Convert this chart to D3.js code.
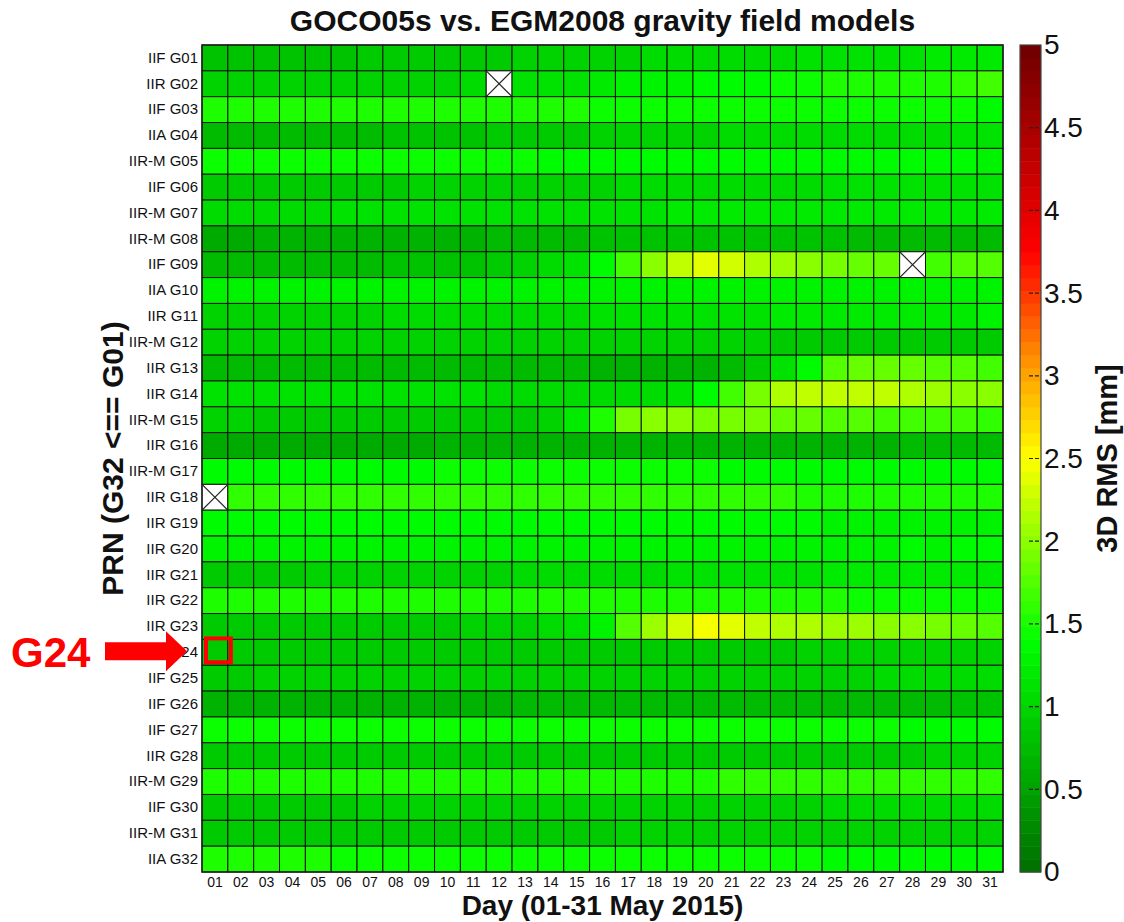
<!DOCTYPE html>
<html>
<head>
<meta charset="utf-8">
<script src="https://cdn.jsdelivr.net/npm/d3@7"></script>
<style>
  html, body { margin: 0; padding: 0; background: #fff; }
  svg { display: block; font-family: Arial, "Liberation Sans", sans-serif; }
</style>
</head>
<body>
<svg id="chart" width="1124" height="922"></svg>
<script>
// Days of May 2015 (columns)
const days = ["01","02","03","04","05","06","07","08","09","10","11","12","13","14","15","16",
              "17","18","19","20","21","22","23","24","25","26","27","28","29","30","31"];

// Satellite block + PRN (rows, top to bottom)
const prnLabels = ["IIF G01","IIR G02","IIF G03","IIA G04","IIR-M G05","IIF G06","IIR-M G07","IIR-M G08",
                   "IIF G09","IIA G10","IIR G11","IIR-M G12","IIR G13","IIR G14","IIR-M G15","IIR G16",
                   "IIR-M G17","IIR G18","IIR G19","IIR G20","IIR G21","IIR G22","IIR G23","IIF G24",
                   "IIF G25","IIF G26","IIF G27","IIR G28","IIR-M G29","IIF G30","IIR-M G31","IIA G32"];

// Daily 3D RMS differences [mm], one row per PRN (null = no orbit that day)
const rms = [
  [0.85,0.85,0.84,0.84,0.85,0.85,0.86,0.86,0.87,0.88,0.88,0.92,0.94,0.95,0.96,0.98,1.00,1.02,1.03,1.04,1.05,1.06,1.08,1.10,1.12,1.13,1.15,1.16,1.18,1.20,1.22],
  [0.95,0.95,0.96,0.96,0.97,0.97,0.98,0.99,1.00,1.00,1.02,null,1.10,1.13,1.16,1.20,1.25,1.28,1.30,1.33,1.36,1.40,1.45,1.48,1.50,1.50,1.52,1.55,1.55,1.60,1.66],
  [1.55,1.55,1.55,1.54,1.54,1.54,1.53,1.53,1.53,1.52,1.52,1.51,1.50,1.50,1.49,1.48,1.47,1.46,1.46,1.45,1.45,1.44,1.44,1.43,1.43,1.42,1.42,1.42,1.41,1.41,1.40],
  [0.75,0.74,0.74,0.75,0.76,0.77,0.78,0.79,0.80,0.82,0.84,0.86,0.88,0.90,0.92,0.94,0.96,0.98,1.00,1.01,1.02,1.03,1.04,1.05,1.06,1.07,1.08,1.08,1.09,1.10,1.10],
  [1.47,1.47,1.46,1.46,1.46,1.45,1.45,1.45,1.44,1.44,1.43,1.42,1.41,1.40,1.39,1.38,1.37,1.37,1.36,1.36,1.35,1.35,1.35,1.34,1.34,1.34,1.33,1.33,1.33,1.33,1.32],
  [0.90,0.90,0.90,0.91,0.91,0.92,0.92,0.93,0.94,0.95,0.96,0.97,0.98,0.99,1.00,1.01,1.02,1.03,1.04,1.05,1.06,1.07,1.08,1.09,1.10,1.11,1.12,1.12,1.13,1.14,1.15],
  [1.08,1.08,1.08,1.09,1.09,1.10,1.10,1.11,1.11,1.12,1.12,1.13,1.14,1.15,1.15,1.16,1.17,1.17,1.18,1.18,1.19,1.19,1.20,1.20,1.21,1.21,1.22,1.22,1.23,1.23,1.24],
  [0.62,0.62,0.63,0.63,0.64,0.65,0.65,0.66,0.67,0.68,0.70,0.72,0.74,0.76,0.78,0.79,0.80,0.80,0.81,0.81,0.81,0.80,0.80,0.79,0.79,0.78,0.78,0.77,0.77,0.76,0.76],
  [0.74,0.74,0.75,0.75,0.76,0.77,0.78,0.79,0.80,0.82,0.85,0.90,0.96,1.03,1.12,1.38,1.68,2.00,2.22,2.36,2.28,2.14,2.06,2.01,1.94,1.86,1.80,null,1.68,1.76,1.72],
  [1.30,1.30,1.31,1.31,1.31,1.32,1.32,1.32,1.32,1.32,1.31,1.31,1.30,1.30,1.30,1.30,1.29,1.29,1.29,1.29,1.28,1.28,1.28,1.28,1.28,1.27,1.27,1.27,1.27,1.27,1.26],
  [0.97,0.97,0.98,0.98,0.99,1.00,1.01,1.02,1.03,1.04,1.05,1.06,1.07,1.08,1.09,1.10,1.12,1.13,1.14,1.15,1.16,1.17,1.18,1.19,1.20,1.21,1.22,1.23,1.24,1.24,1.25],
  [0.95,0.95,0.95,0.96,0.96,0.96,0.96,0.97,0.97,0.97,0.97,0.97,0.97,0.97,0.96,0.96,0.96,0.95,0.95,0.95,0.94,0.94,0.93,0.93,0.92,0.92,0.91,0.91,0.90,0.90,0.90],
  [0.76,0.76,0.76,0.75,0.75,0.75,0.75,0.74,0.74,0.74,0.73,0.73,0.72,0.72,0.71,0.70,0.70,0.69,0.69,0.69,0.78,0.92,1.15,1.38,1.72,1.84,1.86,1.82,1.78,1.76,1.70],
  [1.15,1.15,1.14,1.14,1.13,1.13,1.12,1.12,1.11,1.10,1.10,1.09,1.08,1.07,1.06,1.05,1.05,1.06,1.12,1.38,1.66,1.95,2.14,2.22,2.25,2.26,2.22,2.16,2.08,2.02,1.96],
  [0.95,0.94,0.93,0.92,0.91,0.90,0.89,0.88,0.88,0.88,0.88,0.89,0.90,0.95,1.20,1.55,1.92,1.96,1.96,1.95,1.94,1.90,1.86,1.80,1.76,1.72,1.70,1.68,1.67,1.66,1.64],
  [0.62,0.62,0.61,0.61,0.61,0.61,0.62,0.62,0.62,0.63,0.63,0.63,0.64,0.64,0.65,0.65,0.66,0.66,0.66,0.67,0.67,0.68,0.68,0.69,0.69,0.70,0.70,0.71,0.71,0.72,0.72],
  [1.36,1.37,1.37,1.38,1.38,1.39,1.39,1.40,1.40,1.41,1.41,1.41,1.42,1.42,1.42,1.42,1.42,1.41,1.41,1.41,1.40,1.40,1.40,1.39,1.39,1.39,1.38,1.38,1.38,1.37,1.37],
  [null,1.62,1.62,1.62,1.61,1.61,1.61,1.60,1.60,1.60,1.60,1.59,1.59,1.59,1.59,1.58,1.58,1.58,1.58,1.57,1.57,1.57,1.57,1.56,1.56,1.56,1.56,1.55,1.55,1.55,1.55],
  [1.38,1.37,1.37,1.37,1.36,1.36,1.36,1.36,1.35,1.35,1.35,1.35,1.35,1.34,1.34,1.34,1.34,1.34,1.33,1.33,1.33,1.33,1.33,1.33,1.32,1.32,1.32,1.32,1.32,1.32,1.32],
  [1.30,1.30,1.31,1.30,1.30,1.29,1.30,1.30,1.30,1.31,1.30,1.30,1.29,1.30,1.30,1.30,1.31,1.31,1.31,1.30,1.31,1.31,1.32,1.31,1.32,1.32,1.32,1.33,1.32,1.33,1.33],
  [0.92,0.92,0.93,0.93,0.94,0.95,0.96,0.97,0.98,0.99,1.00,1.01,1.03,1.04,1.05,1.07,1.08,1.09,1.10,1.12,1.13,1.14,1.15,1.16,1.18,1.19,1.20,1.21,1.22,1.23,1.24],
  [1.53,1.53,1.53,1.52,1.52,1.52,1.52,1.52,1.51,1.51,1.51,1.51,1.51,1.50,1.50,1.50,1.50,1.50,1.50,1.49,1.49,1.49,1.49,1.49,1.49,1.48,1.48,1.48,1.48,1.48,1.48],
  [0.86,0.86,0.87,0.87,0.88,0.88,0.89,0.90,0.91,0.92,0.94,0.96,0.99,1.03,1.10,1.30,1.72,2.04,2.30,2.44,2.36,2.26,2.18,2.12,2.08,2.04,2.00,1.96,1.90,1.86,1.76],
  [0.88,0.88,0.88,0.89,0.89,0.89,0.89,0.90,0.90,0.90,0.90,0.91,0.91,0.91,0.91,0.92,0.92,0.92,0.92,0.93,0.93,0.93,0.93,0.94,0.94,0.94,0.94,0.94,0.95,0.95,0.95],
  [0.93,0.93,0.94,0.94,0.94,0.95,0.95,0.95,0.96,0.96,0.96,0.97,0.97,0.97,0.98,0.98,0.98,0.99,0.99,0.99,1.00,1.00,1.00,1.01,1.01,1.01,1.02,1.02,1.02,1.03,1.03],
  [0.66,0.66,0.66,0.67,0.67,0.67,0.68,0.68,0.69,0.69,0.70,0.70,0.71,0.71,0.72,0.72,0.73,0.73,0.74,0.74,0.75,0.75,0.76,0.76,0.77,0.77,0.78,0.78,0.78,0.79,0.79],
  [1.45,1.45,1.45,1.45,1.44,1.44,1.44,1.44,1.44,1.43,1.43,1.43,1.43,1.43,1.42,1.42,1.42,1.42,1.42,1.42,1.41,1.41,1.41,1.41,1.41,1.41,1.41,1.40,1.40,1.40,1.40],
  [0.88,0.88,0.88,0.88,0.89,0.89,0.89,0.89,0.89,0.90,0.90,0.90,0.90,0.90,0.91,0.91,0.91,0.91,0.92,0.92,0.92,0.92,0.92,0.93,0.93,0.93,0.93,0.93,0.94,0.94,0.94],
  [1.50,1.50,1.50,1.50,1.50,1.50,1.51,1.51,1.51,1.51,1.51,1.51,1.51,1.52,1.52,1.52,1.52,1.53,1.54,1.56,1.57,1.57,1.58,1.58,1.58,1.58,1.58,1.59,1.62,1.64,1.62],
  [0.92,0.92,0.92,0.93,0.93,0.93,0.94,0.94,0.94,0.95,0.95,0.95,0.96,0.96,0.97,0.97,0.98,0.98,0.99,0.99,1.00,1.00,1.01,1.01,1.02,1.02,1.03,1.03,1.04,1.04,1.05],
  [0.88,0.88,0.88,0.89,0.89,0.89,0.90,0.90,0.90,0.91,0.91,0.91,0.92,0.92,0.93,0.93,0.94,0.94,0.95,0.95,0.96,0.96,0.97,0.97,0.98,0.98,0.99,0.99,1.00,1.00,1.01],
  [1.50,1.50,1.49,1.49,1.49,1.48,1.48,1.48,1.47,1.47,1.46,1.46,1.45,1.45,1.44,1.44,1.43,1.43,1.42,1.42,1.42,1.41,1.41,1.41,1.40,1.40,1.40,1.40,1.40,1.40,1.40]
];

// Colour bar ticks and colormap anchors (green -> yellow -> red -> dark red)
const cbarTicks = [0, 0.5, 1, 1.5, 2, 2.5, 3, 3.5, 4, 4.5, 5];
const cmapStops = [0, 1.4, 2.5, 3.0, 3.75, 5];
const cmapColors = ["#006e00", "#00ff00", "#ffff00", "#ffa500", "#ff0000", "#6e0000"];
const nLevels = 64;

// Highlighted satellite
const highlightPrn = "IIF G24";
const highlightDay = "01";

const svg = d3.select("#chart");
const FONT = "Arial, 'Liberation Sans', sans-serif";

const W = { left: 202, right: 1003, top: 45, bottom: 872 };

const x = d3.scaleBand().domain(days).range([W.left, W.right]).paddingInner(0).paddingOuter(0);
const y = d3.scaleBand().domain(prnLabels).range([W.top, W.bottom]).paddingInner(0).paddingOuter(0);

const cmapLinear = d3.scaleLinear().domain(cmapStops).range(cmapColors).interpolate(d3.interpolateRgb).clamp(true);
const levelWidth = 5 / nLevels;
const levelOf = v => Math.min(nLevels - 1, Math.max(0, Math.floor(v / levelWidth)));
const colorOf = v => cmapLinear((levelOf(v) + 0.5) * levelWidth);

// Flatten rows into cells
const cells = [];
rms.forEach((row, i) => row.forEach((v, j) => cells.push({ prn: prnLabels[i], day: days[j], v })));

svg.append("g").selectAll("rect.cell")
  .data(cells)
  .join("rect")
  .attr("class", "cell")
  .attr("x", d => x(d.day))
  .attr("y", d => y(d.prn))
  .attr("width", x.bandwidth())
  .attr("height", y.bandwidth())
  .attr("fill", d => d.v == null ? "#ffffff" : colorOf(d.v))
  .attr("stroke", "#111")
  .attr("stroke-width", 1);

// Missing days: crossed-out white cells
const missing = cells.filter(d => d.v == null);
const gMiss = svg.append("g").attr("stroke", "#222").attr("stroke-width", 1.2);
missing.forEach(d => {
  const x0 = x(d.day), y0 = y(d.prn), w = x.bandwidth(), h = y.bandwidth();
  gMiss.append("line").attr("x1", x0).attr("y1", y0).attr("x2", x0 + w).attr("y2", y0 + h);
  gMiss.append("line").attr("x1", x0 + w).attr("y1", y0).attr("x2", x0).attr("y2", y0 + h);
});

// Frame
svg.append("rect")
  .attr("x", W.left).attr("y", W.top)
  .attr("width", W.right - W.left).attr("height", W.bottom - W.top)
  .attr("fill", "none").attr("stroke", "#222").attr("stroke-width", 1.5);

// Axes labels (tick text only)
const xAxis = svg.append("g").attr("transform", `translate(0,${W.bottom})`)
  .call(d3.axisBottom(x).tickSize(0).tickPadding(5));
xAxis.select(".domain").remove();
xAxis.selectAll("text").attr("font-size", 14).attr("fill", "#111").attr("font-family", FONT);

const yAxis = svg.append("g").attr("transform", `translate(${W.left},0)`)
  .call(d3.axisLeft(y).tickSize(0).tickPadding(4));
yAxis.select(".domain").remove();
yAxis.selectAll("text").attr("font-size", 15).attr("fill", "#111").attr("font-family", FONT);

// Titles
svg.append("text")
  .attr("x", (W.left + W.right) / 2).attr("y", 31)
  .attr("text-anchor", "middle").attr("font-weight", "bold").attr("font-size", 30)
  .attr("fill", "#111")
  .text("GOCO05s vs. EGM2008 gravity field models");

svg.append("text")
  .attr("x", (W.left + W.right) / 2).attr("y", 915)
  .attr("text-anchor", "middle").attr("font-weight", "bold").attr("font-size", 28)
  .attr("fill", "#111")
  .text("Day (01-31 May 2015)");

svg.append("text")
  .attr("transform", `translate(123,${(W.top + W.bottom) / 2}) rotate(-90)`)
  .attr("text-anchor", "middle").attr("font-weight", "bold").attr("font-size", 30)
  .attr("fill", "#111")
  .text("PRN (G32 <== G01)");

// Colour bar
const cb = { x: 1020, w: 21 };
const cy = d3.scaleLinear().domain([0, 5]).range([W.bottom, W.top]);
const levels = d3.range(nLevels);
svg.append("g").selectAll("rect")
  .data(levels)
  .join("rect")
  .attr("x", cb.x)
  .attr("y", k => cy((k + 1) * levelWidth))
  .attr("width", cb.w)
  .attr("height", k => cy(k * levelWidth) - cy((k + 1) * levelWidth) + 0.5)
  .attr("fill", k => cmapLinear((k + 0.5) * levelWidth));
svg.append("rect")
  .attr("x", cb.x).attr("y", W.top).attr("width", cb.w).attr("height", W.bottom - W.top)
  .attr("fill", "none").attr("stroke", "#444").attr("stroke-width", 1.2);

const cAxis = svg.append("g").attr("transform", `translate(${cb.x + cb.w},0)`)
  .call(d3.axisRight(cy).tickValues(cbarTicks).tickFormat(d3.format("")).tickSize(0).tickPadding(3));
cAxis.select(".domain").remove();
cAxis.selectAll("text").attr("font-size", 28).attr("fill", "#111").attr("font-family", FONT);
// inward dashed tick marks
svg.append("g").selectAll("line")
  .data(cbarTicks.filter(t => t > 0 && t < 5))
  .join("line")
  .attr("x1", cb.x + 9).attr("x2", cb.x + cb.w)
  .attr("y1", d => cy(d)).attr("y2", d => cy(d))
  .attr("stroke", "#222").attr("stroke-width", 1.2).attr("stroke-dasharray", "4,2");

svg.append("text")
  .attr("transform", `translate(1117,${(W.top + W.bottom) / 2}) rotate(-90)`)
  .attr("text-anchor", "middle").attr("font-weight", "bold").attr("font-size", 29)
  .attr("fill", "#111")
  .text("3D RMS [mm]");

// Highlight box and arrow
svg.append("rect")
  .attr("x", x(highlightDay) + 4).attr("y", y(highlightPrn) - 1)
  .attr("width", x.bandwidth() - 1).attr("height", y.bandwidth() - 2)
  .attr("fill", "none").attr("stroke", "#ff0000").attr("stroke-width", 4);

const ay = y(highlightPrn) + y.bandwidth() / 2 - 1;
svg.append("path")
  .attr("d", `M105,${ay - 9} L166,${ay - 9} L166,${ay - 20} L187,${ay} L166,${ay + 20} L166,${ay + 9} L105,${ay + 9} Z`)
  .attr("fill", "#ff0000");

svg.append("text")
  .attr("x", 11).attr("y", ay + 16)
  .attr("font-weight", "bold").attr("font-size", 42).attr("fill", "#ff0000")
  .attr("font-family", FONT)
  .text("G24");
</script>
</body>
</html>
